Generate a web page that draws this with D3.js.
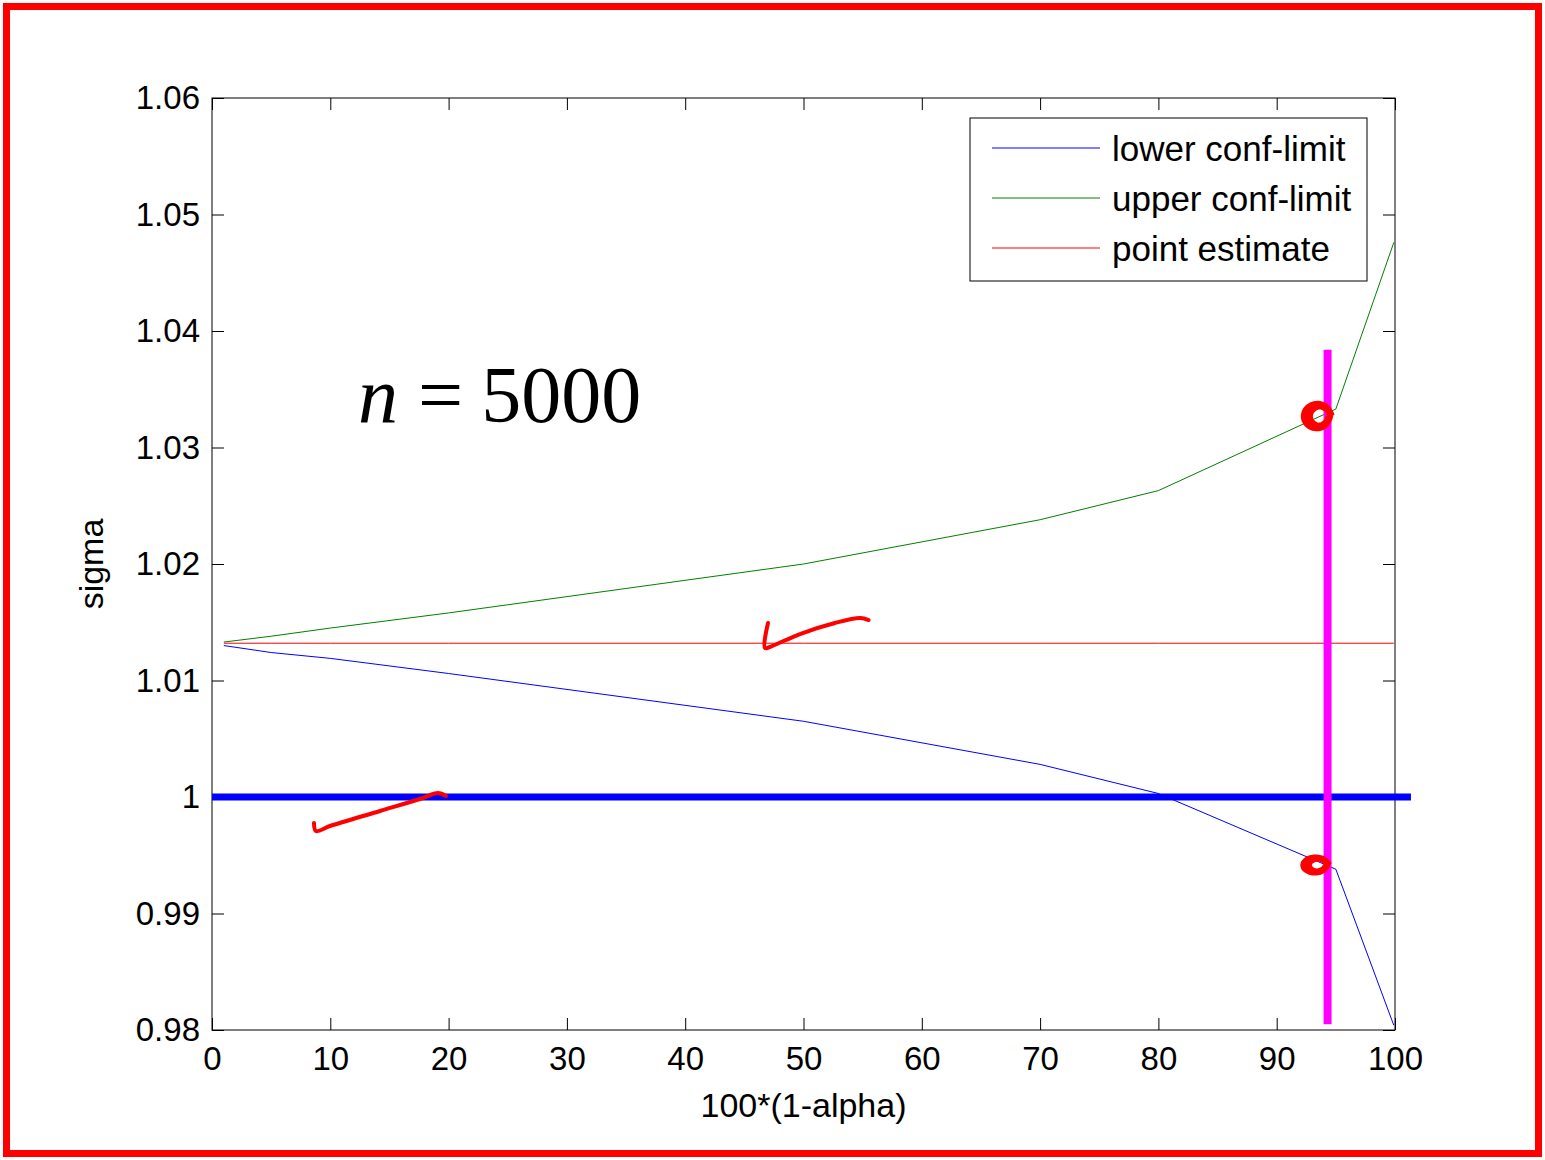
<!DOCTYPE html>
<html>
<head>
<meta charset="utf-8">
<script src="https://cdn.jsdelivr.net/npm/d3@7"></script>
<style>
  body { margin: 0; background: #fff; }
  text { font-family: "Liberation Sans", Arial, Helvetica, sans-serif; }
</style>
</head>
<body>
<script>
// confidence levels (x) and the limits
var confLevels = [1, 5, 10, 20, 50, 70, 80, 95, 99.9];
var lowerLimit = [1.0130, 1.0124, 1.0119, 1.0106, 1.0065, 1.0028, 1.0003, 0.9938, 0.9804];
var upperLimit = [1.0133, 1.0138, 1.0145, 1.0158, 1.0200, 1.0238, 1.0263, 1.0333, 1.0476];
var pointEstimate = 1.0132;

var xTicks = [0, 10, 20, 30, 40, 50, 60, 70, 80, 90, 100];
var yTicks = [0.98, 0.99, 1.00, 1.01, 1.02, 1.03, 1.04, 1.05, 1.06];
var legendLabels = ["lower conf-limit", "upper conf-limit", "point estimate"];
var legendColors = ["#0000ff", "#008000", "#ff0000"];

// hand drawn annotations, in data units
var trueSigma = 1.0;            // thick blue line
var markerX = 94.3;             // magenta vertical line
var markerY = [0.9805, 1.0384];
var check1 = [[47.0, 1.01494], [46.75, 1.01279], [47.34, 1.01296], [49.7, 1.01399], [52.66, 1.01494], [54.8, 1.01536], [55.5, 1.01519]];
var check2 = [[8.62, 0.99777], [8.79, 0.99708], [9.97, 0.99751], [14.2, 0.9988], [17.58, 0.99983], [19.1, 1.00034], [19.78, 1.00009]];
var circles = [{x: 93.3, y: 1.0327, rx: 12, ry: 11}, {x: 93.15, y: 0.99416, rx: 11, ry: 7}];

var W = 1545, H = 1160;
var margin = {left: 212, top: 98, right: 150, bottom: 130};
var width = 1395 - margin.left,
    height = 1030 - margin.top;

var svg = d3.select("body").append("svg")
    .attr("width", W)
    .attr("height", H);

// red frame round the picture
svg.append("rect")
    .attr("x", 6.5).attr("y", 6.5)
    .attr("width", W - 13).attr("height", H - 13)
    .attr("fill", "none")
    .attr("stroke", "#ff0000")
    .attr("stroke-width", 7);

var g = svg.append("g")
    .attr("transform", "translate(" + margin.left + "," + margin.top + ")");

var x = d3.scaleLinear().domain([0, 100]).range([0, width]);
var y = d3.scaleLinear().domain([0.98, 1.06]).range([height, 0]);

// axes, ticks pointing inward like matlab
var xAxis = g.append("g")
    .attr("transform", "translate(0," + height + ")")
    .call(d3.axisBottom(x).tickValues(xTicks).tickSize(-12).tickPadding(17).tickFormat(d3.format("d")));
var xTop = g.append("g")
    .call(d3.axisTop(x).tickValues(xTicks).tickSize(-12).tickFormat(""));
var yAxis = g.append("g")
    .call(d3.axisLeft(y).tickValues(yTicks).tickSize(-12).tickPadding(12).tickFormat(function(d) {
        return d3.format("")(+d.toFixed(2));
    }));
var yRight = g.append("g")
    .attr("transform", "translate(" + width + ",0)")
    .call(d3.axisRight(y).tickValues(yTicks).tickSize(-12).tickFormat(""));

[xAxis, xTop, yAxis, yRight].forEach(function(a) {
    a.select(".domain").remove();
    a.selectAll("line").attr("stroke", "#000");
    a.selectAll("text").attr("fill", "#000").style("font-size", "33px");
});

g.append("rect")
    .attr("width", width).attr("height", height)
    .attr("fill", "none").attr("stroke", "#000").attr("stroke-width", 1);

// data lines
var line = d3.line()
    .x(function(d) { return x(d[0]); })
    .y(function(d) { return y(d[1]); });

var series = [
    confLevels.map(function(c, i) { return [c, lowerLimit[i]]; }),
    confLevels.map(function(c, i) { return [c, upperLimit[i]]; }),
    confLevels.map(function(c) { return [c, pointEstimate]; })
];

g.selectAll(".series")
    .data(series)
    .enter().append("path")
    .attr("class", "series")
    .attr("d", line)
    .attr("fill", "none")
    .attr("stroke", function(d, i) { return legendColors[i]; })
    .attr("stroke-width", 1);

// legend
var legend = g.append("g").attr("transform", "translate(" + (970 - margin.left) + "," + (118 - margin.top) + ")");
legend.append("rect")
    .attr("width", 397).attr("height", 163)
    .attr("fill", "#fff").attr("stroke", "#000").attr("stroke-width", 1);
var items = legend.selectAll(".item")
    .data(legendLabels)
    .enter().append("g")
    .attr("transform", function(d, i) { return "translate(0," + (30 + i * 50) + ")"; });
items.append("line")
    .attr("x1", 22).attr("x2", 130)
    .attr("stroke", function(d, i) { return legendColors[i]; })
    .attr("stroke-width", 1);
items.append("text")
    .attr("x", 142).attr("y", 13)
    .style("font-size", "35px")
    .text(function(d) { return d; });

// axis labels
svg.append("text")
    .attr("x", margin.left + width / 2).attr("y", 1117)
    .attr("text-anchor", "middle")
    .style("font-size", "34px")
    .text("100*(1-alpha)");
svg.append("text")
    .attr("transform", "translate(103," + (margin.top + height / 2) + ") rotate(-90)")
    .attr("text-anchor", "middle")
    .style("font-size", "34px")
    .text("sigma");

// n = 5000 label
var nText = svg.append("text")
    .attr("x", 358).attr("y", 422)
    .style("font-family", "'Liberation Serif', 'Times New Roman', serif")
    .style("font-size", "80px");
nText.append("tspan").style("font-style", "italic").text("n");
nText.append("tspan").attr("dx", 20).text("=");
nText.append("tspan").attr("dx", 18).text("5000");

// annotations drawn over the chart
g.append("line")
    .attr("x1", x(0)).attr("x2", x(101.35))
    .attr("y1", y(trueSigma)).attr("y2", y(trueSigma))
    .attr("stroke", "#0000ff").attr("stroke-width", 7);

g.append("line")
    .attr("x1", x(markerX)).attr("x2", x(markerX))
    .attr("y1", y(markerY[0])).attr("y2", y(markerY[1]))
    .attr("stroke", "#ff00ff").attr("stroke-width", 8);

var pen = d3.line()
    .x(function(d) { return x(d[0]); })
    .y(function(d) { return y(d[1]); })
    .curve(d3.curveCatmullRom);

[check1, check2].forEach(function(c) {
    g.append("path")
        .attr("d", pen(c))
        .attr("fill", "none")
        .attr("stroke", "#ff0000")
        .attr("stroke-width", 4)
        .attr("stroke-linecap", "round")
        .attr("stroke-linejoin", "round");
});

// scribbled circles: a few loops round each centre
circles.forEach(function(c) {
    var pts = [];
    for (var t = 0; t <= Math.PI * 6; t += 0.2) {
        var s = 1 - 0.25 * Math.sin(t * 0.5);
        pts.push([x(c.x) + c.rx * s * Math.cos(t) + t * 0.25, y(c.y) + c.ry * s * Math.sin(t)]);
    }
    g.append("path")
        .attr("d", d3.line().curve(d3.curveCardinal)(pts))
        .attr("fill", "none")
        .attr("stroke", "#ff0000")
        .attr("stroke-width", 4.5);
});
</script>
</body>
</html>
